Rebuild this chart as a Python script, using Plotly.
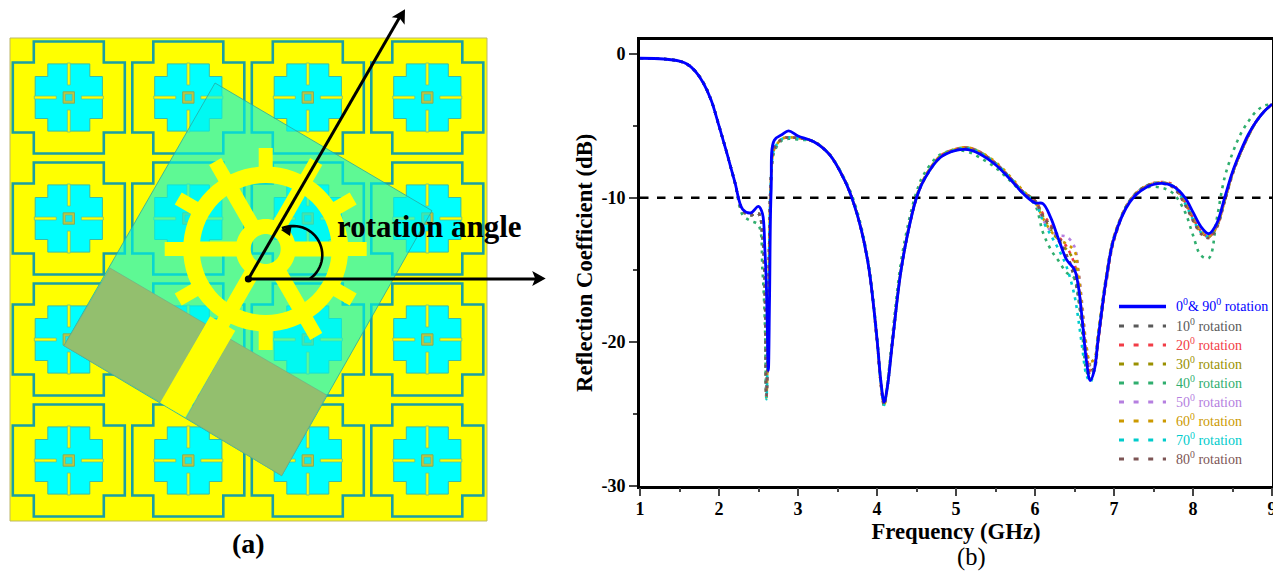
import math
import plotly.graph_objects as go

# ---------- chart data ----------
freq = [1.0,1.3,1.5,1.6,1.7,1.8,1.9,2.0,2.1,2.2,2.3,2.4,2.5,2.55,2.58,2.6,2.625,2.64,2.66,2.7,2.8,2.88,3.0,
        3.2,3.4,3.6,3.7,3.8,3.9,4.0,4.05,4.09,4.13,4.2,4.3,4.4,4.5,4.6,4.8,5.0,5.15,5.3,5.5,5.7,5.85,
        6.0,6.1,6.2,6.3,6.4,6.5,6.55,6.6,6.65,6.7,6.75,6.8,6.9,7.0,
        7.2,7.4,7.6,7.75,7.9,8.0,8.1,8.2,8.3,8.4,8.5,8.6,8.7,8.8,8.9,9.0]

s_0_90 = [-0.3,-0.35,-0.5,-0.72,-1.2,-2.0,-3.2,-5.0,-6.9,-8.9,-10.8,-11.05,-10.6,-11.1,-13.5,-16.2,-22.0,-17.0,-9.5,-6.0,-5.6,-5.35,-5.7,
          -6.1,-7.0,-8.9,-10.3,-12.2,-15.0,-19.8,-22.8,-24.2,-23.2,-19.8,-15.2,-12.2,-10.0,-8.7,-7.2,-6.7,-6.65,-6.95,-7.7,-8.8,-9.7,
          -10.35,-10.4,-11.4,-12.9,-14.3,-15.0,-16.2,-18.6,-21.3,-22.7,-22.0,-19.8,-15.7,-12.8,
          -10.3,-9.3,-9.0,-9.2,-10.0,-11.0,-12.0,-12.5,-11.8,-10.0,-8.2,-6.8,-5.6,-4.7,-4.0,-3.5]
s_10 = [-0.3,-0.35,-0.5,-0.72,-1.2,-2.0,-3.2,-5.0,-6.9,-8.9,-10.9,-11.2,-11.1,-12.6,-16.2,-23.8,-18.0,-12.0,-8.5,-6.6,-5.9,-5.8,-5.85,
        -6.1,-7.0,-8.9,-10.3,-12.2,-15.0,-19.9,-23.0,-24.4,-23.2,-19.8,-15.2,-12.2,-10.0,-8.7,-7.2,-6.65,-6.55,-6.85,-7.6,-8.7,-9.6,
        -10.2,-11.2,-12.0,-13.0,-14.0,-15.6,-17.0,-19.0,-21.0,-22.0,-21.8,-19.7,-15.7,-12.8,
        -10.2,-9.2,-8.95,-9.2,-10.4,-11.5,-12.4,-12.7,-12.0,-10.2,-8.3,-6.9,-5.7,-4.7,-4.0,-3.5]
s_20 = [-0.3,-0.35,-0.5,-0.72,-1.2,-2.0,-3.2,-5.0,-6.9,-8.9,-10.9,-11.2,-11.1,-12.5,-16.0,-23.8,-18.0,-12.0,-8.5,-6.6,-5.9,-5.8,-5.85,
        -6.1,-7.0,-8.9,-10.3,-12.2,-15.0,-19.9,-23.0,-24.4,-23.2,-19.8,-15.2,-12.2,-10.0,-8.6,-7.1,-6.6,-6.5,-6.8,-7.6,-8.7,-9.6,
        -10.2,-11.1,-11.9,-12.7,-13.4,-14.6,-16.0,-18.5,-20.8,-22.0,-21.8,-20.0,-16.0,-13.0,
        -10.2,-9.2,-8.9,-9.1,-10.3,-11.4,-12.3,-12.7,-12.0,-10.2,-8.3,-6.9,-5.7,-4.7,-4.0,-3.5]
s_30 = [-0.3,-0.35,-0.5,-0.72,-1.2,-2.0,-3.2,-5.0,-6.9,-8.9,-10.9,-11.2,-11.1,-12.7,-16.2,-23.8,-18.0,-12.0,-8.5,-6.6,-5.9,-5.8,-5.85,
        -6.1,-7.0,-8.9,-10.3,-12.2,-15.0,-19.9,-23.0,-24.3,-23.1,-19.7,-15.1,-12.1,-9.9,-8.6,-7.1,-6.6,-6.5,-6.8,-7.6,-8.7,-9.6,
        -10.2,-11.3,-12.2,-13.0,-13.6,-14.4,-15.8,-18.2,-20.5,-21.6,-21.5,-19.6,-15.6,-12.7,
        -10.2,-9.2,-8.95,-9.2,-10.4,-11.5,-12.4,-12.7,-12.0,-10.2,-8.3,-6.9,-5.7,-4.7,-4.0,-3.5]
s_40 = [-0.3,-0.35,-0.5,-0.72,-1.2,-2.0,-3.2,-5.0,-6.9,-8.9,-11.2,-11.6,-11.9,-15.0,-18.5,-24.0,-18.0,-12.0,-8.5,-6.8,-6.0,-5.9,-5.95,
        -6.1,-7.0,-8.8,-10.1,-12.0,-14.8,-19.6,-22.8,-24.5,-23.0,-19.3,-14.6,-11.7,-9.6,-8.3,-7.0,-6.7,-6.8,-7.2,-7.9,-8.9,-9.7,
        -10.5,-12.4,-13.6,-14.4,-15.2,-15.6,-17.0,-19.5,-22.0,-22.6,-21.8,-19.5,-15.5,-12.7,
        -10.2,-9.3,-9.3,-9.7,-11.0,-12.6,-14.0,-14.2,-11.5,-8.6,-6.9,-5.6,-4.7,-4.0,-3.6,-3.5]
s_50 = [-0.3,-0.35,-0.5,-0.72,-1.2,-2.0,-3.2,-5.0,-6.9,-8.9,-10.9,-11.2,-11.1,-12.6,-16.2,-23.8,-18.0,-12.0,-8.5,-6.6,-5.9,-5.8,-5.85,
        -6.1,-7.0,-8.9,-10.3,-12.2,-15.0,-19.9,-23.0,-24.4,-23.2,-19.8,-15.2,-12.2,-10.0,-8.7,-7.2,-6.65,-6.55,-6.85,-7.6,-8.7,-9.6,
        -10.2,-11.5,-12.3,-12.6,-12.7,-13.4,-15.0,-17.5,-20.2,-21.7,-21.4,-19.6,-15.6,-12.7,
        -10.2,-9.2,-8.95,-9.2,-10.3,-11.4,-12.3,-12.7,-12.0,-10.2,-8.3,-6.9,-5.7,-4.7,-4.0,-3.5]
s_60 = [-0.3,-0.35,-0.5,-0.72,-1.2,-2.0,-3.2,-5.0,-6.9,-8.9,-10.9,-11.2,-11.1,-12.6,-16.2,-23.9,-18.0,-12.0,-8.5,-6.6,-5.9,-5.8,-5.85,
        -6.1,-7.0,-8.9,-10.3,-12.2,-15.0,-19.9,-23.0,-24.4,-23.2,-19.8,-15.2,-12.2,-10.0,-8.7,-7.2,-6.6,-6.5,-6.8,-7.5,-8.6,-9.5,
        -10.3,-11.4,-12.3,-12.9,-13.2,-13.7,-15.2,-17.8,-20.3,-21.4,-21.2,-19.4,-15.5,-12.7,
        -10.2,-9.2,-8.95,-9.2,-10.3,-11.4,-12.3,-12.7,-12.0,-10.2,-8.3,-6.9,-5.7,-4.7,-4.0,-3.5]
s_70 = [-0.3,-0.35,-0.5,-0.72,-1.2,-2.0,-3.2,-5.0,-6.9,-8.9,-10.9,-11.2,-11.1,-12.8,-16.4,-24.0,-18.0,-12.0,-8.5,-6.6,-5.9,-5.8,-5.85,
        -6.1,-7.0,-8.9,-10.3,-12.2,-15.0,-19.9,-23.0,-24.4,-23.2,-19.8,-15.2,-12.2,-10.0,-8.7,-7.2,-6.65,-6.55,-6.85,-7.6,-8.7,-9.6,
        -10.3,-11.6,-12.6,-13.6,-14.8,-16.8,-18.5,-20.5,-22.3,-22.8,-22.0,-19.8,-15.8,-12.9,
        -10.2,-9.2,-8.95,-9.2,-10.4,-11.5,-12.4,-12.7,-12.0,-10.2,-8.3,-6.9,-5.7,-4.7,-4.0,-3.5]
s_80 = [-0.3,-0.35,-0.5,-0.72,-1.2,-2.0,-3.2,-5.0,-6.9,-8.9,-10.9,-11.2,-11.1,-12.7,-16.3,-23.8,-18.0,-12.0,-8.5,-6.6,-5.9,-5.8,-5.85,
        -6.1,-7.0,-8.9,-10.3,-12.2,-15.0,-19.9,-23.0,-24.4,-23.2,-19.8,-15.2,-12.2,-10.0,-8.7,-7.2,-6.65,-6.55,-6.85,-7.6,-8.7,-9.6,
        -10.2,-11.3,-12.0,-12.7,-14.0,-15.2,-16.5,-18.8,-21.0,-22.3,-22.0,-20.0,-15.9,-12.9,
        -10.2,-9.2,-9.0,-9.3,-10.5,-11.6,-12.5,-12.8,-12.1,-10.3,-8.4,-6.9,-5.7,-4.7,-4.0,-3.5]

rotations = ["10", "20", "30", "40", "50", "60", "70", "80"]
series = [s_10, s_20, s_30, s_40, s_50, s_60, s_70, s_80]
colors = ["#595959", "#F23C46", "#9A9000", "#2FAE6E", "#B57FE0", "#CC9900", "#00CCCC", "#7D5555"]
threshold = -10
x_ticks = [1, 2, 3, 4, 5, 6, 7, 8, 9]
y_ticks = [-30, -20, -10, 0]
y_tick_labels = ["-30", "-20", "-10", "0"]
BLUE = "#0000FF"
SERIF = "Liberation Serif"

fig = go.Figure()
for r, s, c in zip(rotations, series, colors):
    fig.add_trace(go.Scatter(x=freq, y=s, mode="lines", name=f"{r}0 rotation", showlegend=False,
                             line=dict(color=c, width=2.6, dash="3px,5px", shape="spline", smoothing=1.0)))
fig.add_trace(go.Scatter(x=[1, 9], y=[threshold, threshold], mode="lines", showlegend=False,
                         line=dict(color="black", width=2.4, dash="8.5px,8.5px")))
fig.add_trace(go.Scatter(x=freq, y=s_0_90, mode="lines", name="0 & 90 rotation", showlegend=False,
                         line=dict(color=BLUE, width=2.8, shape="spline", smoothing=1.0)))

# ---------- hand-placed legend in the page-pixel axes ----------
LEG_X0, LEG_X1, LEG_TEXT_X = 1119, 1166, 1173.5
LEG_ROWS = [306.5, 326, 345, 364, 383, 402, 421, 440, 459]
LEG_TEXT_SHIFT = -1.2
annotations = []
fig.add_trace(go.Scatter(x=[LEG_X0, LEG_X1], y=[LEG_ROWS[0]] * 2, xaxis="x2", yaxis="y2", mode="lines",
                         showlegend=False, line=dict(color=BLUE, width=3.4)))
annotations.append(dict(x=LEG_TEXT_X, y=LEG_ROWS[0] + LEG_TEXT_SHIFT, xref="x2", yref="y2", xanchor="left",
                        yanchor="middle", showarrow=False, text="0<sup>0</sup>& 90<sup>0</sup> rotation",
                        font=dict(family=SERIF, size=14, color=BLUE)))
for row, r, c in zip(LEG_ROWS[1:], rotations, colors):
    fig.add_trace(go.Scatter(x=[LEG_X0, LEG_X1], y=[row, row], xaxis="x2", yaxis="y2", mode="lines",
                             showlegend=False, line=dict(color=c, width=3, dash="5px,9.6px")))
    annotations.append(dict(x=LEG_TEXT_X, y=row + LEG_TEXT_SHIFT, xref="x2", yref="y2", xanchor="left",
                            yanchor="middle", showarrow=False, text=f"{r[0]}0<sup>0</sup> rotation",
                            font=dict(family=SERIF, size=14, color=c)))

# ---------- schematic (a), in page-pixel axes ----------
YEL, CYAN, TEAL = "#FFFF00", "#00FFFF", "#1A9FA4"
shapes = []


def poly(pts, fill, line=None, lw=0):
    d = "M" + " L".join(f"{x:.2f},{y:.2f}" for x, y in pts) + " Z"
    s = dict(type="path", path=d, xref="x2", yref="y2", fillcolor=fill, layer="above",
             line=dict(color=line or "rgba(0,0,0,0)", width=lw))
    shapes.append(s)


def plus(cx, cy, a, b):
    return [(cx - b, cy - a), (cx + b, cy - a), (cx + b, cy - b), (cx + a, cy - b), (cx + a, cy + b), (cx + b, cy + b),
            (cx + b, cy + a), (cx - b, cy + a), (cx - b, cy + b), (cx - a, cy + b), (cx - a, cy - b), (cx - b, cy - b)]


def rect(x0, y0, x1, y1):
    return [(x0, y0), (x1, y0), (x1, y1), (x0, y1)]


poly(rect(10, 38, 487, 521), YEL, "#BDB76B", 1)
CELL_X = [68.8, 188.3, 307.8, 427.3]
CELL_Y = [97.5, 218.5, 339.5, 460.5]
for cy in CELL_Y:
    for cx in CELL_X:
        poly(plus(cx, cy, 56, 35), YEL, TEAL, 2.6)
        poly(plus(cx, cy, 33.6, 21), CYAN, "#3CBCA4", 1)
        for x0, y0, x1, y1 in [(-1.5, -34.5, 1.5, -12.5), (-1.5, 12.5, 1.5, 34.5),
                               (-34.5, -1.5, -12.5, 1.5), (12.5, -1.5, 34.5, 1.5)]:
            poly(rect(cx + x0, cy + y0, cx + x1, cy + y1), YEL, "#60C498", 0.8)
        poly(rect(cx - 5.7, cy - 5.7, cx + 5.7, cy + 5.7), "#C4C43C", "#7FAE60", 1)
        poly(rect(cx - 3.3, cy - 3.3, cx + 3.3, cy + 3.3), "#10EEEE", "#4CC0A0", 0.6)

# substrate and ground patches
poly([(215, 83), (432, 210.7), (281.7, 475.7), (64, 345.7)], "rgba(0,245,235,0.63)", "#2AA8A0", 0.8)
poly([(64, 345.7), (110, 268), (205.7, 324), (161, 402.7)], "#93BF6E", "#6FA888", 0.6)
poly([(230, 339), (326.7, 395), (281.7, 475.7), (186, 418)], "#93BF6E", "#6FA888", 0.6)

# radiating wheel
WX, WY = 265.7, 249.0


def polar(r, deg, off=0.0):
    a = math.radians(deg)
    return (WX + r * math.cos(a) - off * math.sin(a), WY - r * math.sin(a) - off * math.cos(a))


def bar(r0, r1, deg, w):
    return [polar(r0, deg, -w / 2), polar(r1, deg, -w / 2), polar(r1, deg, w / 2), polar(r0, deg, w / 2)]


def annulus(r0, r1):
    o = [polar(r1, k * 5) for k in range(72)]
    i = [polar(r0, k * 5) for k in range(72)]
    path = "M" + " L".join(f"{x:.2f},{y:.2f}" for x, y in o) + " Z M" + " L".join(f"{x:.2f},{y:.2f}" for x, y in i) + " Z"
    shapes.append(dict(type="path", path=path, xref="x2", yref="y2", fillcolor=YEL, fillrule="evenodd",
                       layer="above", line=dict(width=0, color="rgba(0,0,0,0)")))


annulus(66, 82.5)
annulus(15, 30)
for deg in range(0, 360, 60):
    poly(bar(28, 68, deg, 15), YEL)
for deg in range(0, 360, 30):
    poly(bar(80, 101, deg, 14), YEL)
poly(bar(86, 186, 240, 29), YEL)

# arrows and angle mark
OX, OY = 248.4, 279.0


def line(x0, y0, x1, y1, w=3):
    shapes.append(dict(type="line", x0=x0, y0=y0, x1=x1, y1=y1, xref="x2", yref="y2", layer="above",
                       line=dict(color="black", width=w)))


def head(tx, ty, deg, length=13.5, half=7.5, notch=10.5):
    a = math.radians(deg)
    ux, uy = math.cos(a), -math.sin(a)
    poly([(tx, ty), (tx - length * ux - half * uy, ty - length * uy + half * ux),
          (tx - notch * ux, ty - notch * uy),
          (tx - length * ux + half * uy, ty - length * uy - half * ux)], "black")


line(OX, OY, 399.5, 17.5)
head(405, 9.3, 59.5)
line(OX, OY, 536, OY)
head(545.7, OY - 0.4, 0)
arc_pts = [(293.3 + 29 * math.cos(math.radians(t)), 255 - 29 * math.sin(math.radians(t))) for t in range(-55, 118, 6)]
shapes.append(dict(type="path", path="M" + " L".join(f"{x:.2f},{y:.2f}" for x, y in arc_pts), xref="x2", yref="y2",
                   layer="above", line=dict(color="black", width=2.6)))
poly([(281, 230), (291.7, 225.5), (290, 236)], "black")
shapes.append(dict(type="circle", x0=OX - 3.6, x1=OX + 3.6, y0=OY - 3.6, y1=OY + 3.6, xref="x2", yref="y2",
                   fillcolor="black", layer="above", line=dict(width=0, color="black")))

annotations += [
    dict(x=429, y=226, xref="x2", yref="y2", text="<b>rotation angle</b>", showarrow=False,
         font=dict(family=SERIF, size=31, color="black")),
    dict(x=248, y=543, xref="x2", yref="y2", text="<b>(a)</b>", showarrow=False,
         font=dict(family=SERIF, size=28, color="black")),
    dict(x=971, y=572, xref="x2", yref="y2", text="(b)", showarrow=False, yanchor="bottom", borderpad=0,
         font=dict(family=SERIF, size=24.5, color="black")),
]

W, H = 1273, 572
axis_font = dict(family=SERIF, size=18, color="black", weight="bold")
title_font = dict(family=SERIF, size=22.7, color="black", weight="bold")
fig.update_layout(
    width=W, height=H, margin=dict(l=0, r=0, t=0, b=0, autoexpand=False), autosize=False,
    paper_bgcolor="white", plot_bgcolor="rgba(0,0,0,0)", showlegend=False,
    xaxis=dict(domain=[640 / W, 1272 / W], range=[1, 9], tickmode="array", tickvals=x_ticks, ticks="outside",
               ticklen=8, tickwidth=2.4, ticklabeloverflow="allow", ticklabelstandoff=-3,
               showline=True, linewidth=2.6, linecolor="black", mirror=True, showgrid=False, zeroline=False,
               tickfont=axis_font, title=dict(text="Frequency (GHz)", font=title_font, standoff=0),
               minor=dict(dtick=0.5, ticks="outside", ticklen=4, tickwidth=2, showgrid=False), anchor="y"),
    yaxis=dict(domain=[1 - 485.5 / H, 1 - 40 / H], range=[-30, 0.97], tickmode="array", tickvals=y_ticks,
               ticktext=y_tick_labels, ticks="outside", ticklen=8,
               tickwidth=2.4, showline=True, linewidth=2.6, linecolor="black", mirror=True, showgrid=False,
               zeroline=False, tickfont=axis_font, title=dict(text="Reflection Coefficient (dB)", font=title_font, standoff=3),
               minor=dict(dtick=5, ticks="outside", ticklen=4, tickwidth=2, showgrid=False), anchor="x"),
    xaxis2=dict(domain=[0, 1], range=[0, W], visible=False, anchor="y2", fixedrange=True),
    yaxis2=dict(domain=[0, 1], range=[H, 0], visible=False, anchor="x2", fixedrange=True),
    shapes=shapes, annotations=annotations,
)
fig.write_html("out.html", config=dict(displayModeBar=False),
               post_script="document.body.style.margin='0';document.body.style.overflow='hidden';")
